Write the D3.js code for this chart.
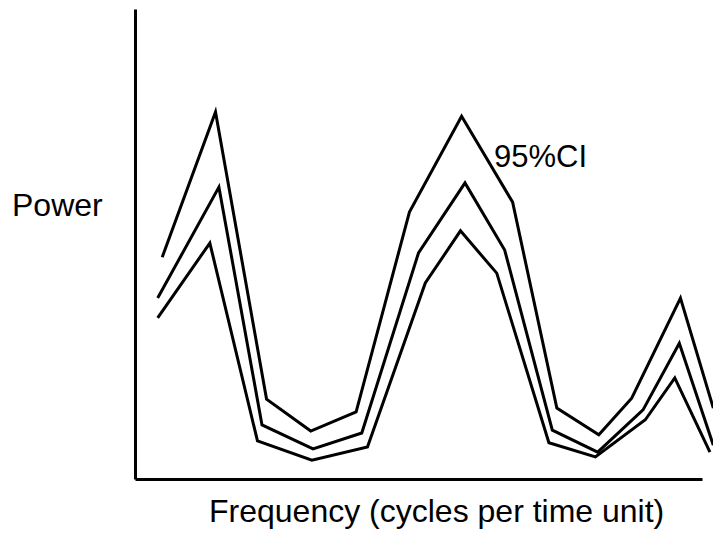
<!DOCTYPE html>
<html>
<head>
<meta charset="utf-8">
<script src="https://cdn.jsdelivr.net/npm/d3@7"></script>
<style>
  body { margin: 0; background: #fff; }
  text { font-family: "Liberation Sans", Arial, sans-serif; fill: #000; }
</style>
</head>
<body>
<div id="chart"></div>
<script>
// frequency (cycles per time unit) and power
var upperFreq  = [0.024, 0.071, 0.116, 0.155, 0.195, 0.242, 0.288, 0.333, 0.372, 0.409, 0.438, 0.481, 0.510];
var upperPower = [47.2, 78.1, 17.0, 10.2, 14.3, 56.8, 77.2, 58.9, 15.1, 9.4, 17.2, 38.5, 15.1];

var midFreq  = [0.020, 0.074, 0.112, 0.157, 0.200, 0.250, 0.291, 0.326, 0.368, 0.408, 0.448, 0.480, 0.510];
var midPower = [38.5, 62.1, 11.5, 6.4, 9.8, 48.1, 63.0, 48.7, 10.4, 5.7, 14.7, 28.9, 7.2];

var lowerFreq  = [0.020, 0.066, 0.108, 0.156, 0.205, 0.256, 0.287, 0.319, 0.365, 0.406, 0.450, 0.476, 0.507];
var lowerPower = [34.3, 50.2, 8.1, 4.0, 6.8, 41.7, 52.8, 43.8, 7.7, 4.7, 12.6, 21.5, 5.7];

var yLabel = "Power";
var xLabel = "Frequency (cycles per time unit)";
var ciLabel = "95%CI";

var width = 713,
    height = 533;

var x = d3.scaleLinear()
    .domain([0, 0.5])
    .range([135, 702]);

var y = d3.scaleLinear()
    .domain([0, 100])
    .range([479, 9]);

var svg = d3.select("#chart")
    .append("svg")
    .attr("width", width)
    .attr("height", height);

var series = [
    d3.zip(upperFreq, upperPower),
    d3.zip(midFreq, midPower),
    d3.zip(lowerFreq, lowerPower)
];

var line = d3.line()
    .x(function(d) { return x(d[0]); })
    .y(function(d) { return y(d[1]); });

svg.selectAll("path.series")
    .data(series)
    .enter()
    .append("path")
    .attr("class", "series")
    .attr("d", line)
    .attr("fill", "none")
    .attr("stroke", "#000")
    .attr("stroke-width", 3);

// bare axes, no ticks
svg.append("g")
    .attr("transform", "translate(0," + y(0) + ")")
    .call(d3.axisBottom(x).tickValues([]).tickSizeOuter(0));
svg.append("g")
    .attr("transform", "translate(" + x(0) + ",0)")
    .call(d3.axisLeft(y).tickValues([]).tickSizeOuter(0));

svg.selectAll(".domain")
    .attr("stroke", "#000")
    .attr("stroke-width", 3);

svg.append("text")
    .attr("x", 12)
    .attr("y", 216)
    .attr("font-size", 32)
    .text(yLabel);

svg.append("text")
    .attr("x", 209)
    .attr("y", 522)
    .attr("font-size", 32)
    .text(xLabel);

svg.append("text")
    .attr("x", 494)
    .attr("y", 167)
    .attr("font-size", 31)
    .text(ciLabel);
</script>
</body>
</html>
